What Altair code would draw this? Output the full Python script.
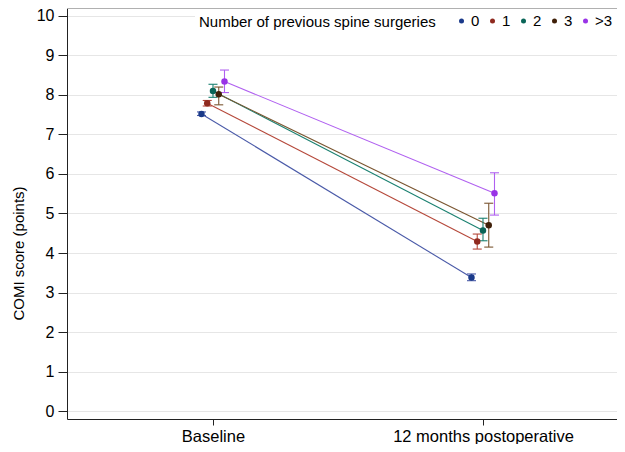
import altair as alt
import pandas as pd

groups = ["0", "1", "2", "3", ">3"]
point_colors = ["#1a3a8a", "#8f2a1f", "#0a6558", "#3f1f08", "#9933e6"]
line_colors = ["#4a5aa8", "#b5483a", "#1a8070", "#7a5530", "#b060f0"]
timepoints = ["Baseline", "12 months postoperative"]

baseline_mean = [7.52, 7.79, 8.10, 8.02, 8.34]
baseline_lo = [7.48, 7.72, 7.94, 7.75, 8.06]
baseline_hi = [7.57, 7.86, 8.27, 8.20, 8.63]
post_mean = [3.38, 4.29, 4.57, 4.70, 5.51]
post_lo = [3.30, 4.10, 4.31, 4.15, 4.96]
post_hi = [3.47, 4.48, 4.88, 5.26, 6.03]

rows = []
for i, g in enumerate(groups):
    rows.append(dict(group=g, grp=g, gi=i, t=1, time=timepoints[0],
                     mean=baseline_mean[i], lo=baseline_lo[i], hi=baseline_hi[i]))
    rows.append(dict(group=g, grp=g, gi=i, t=2, time=timepoints[1],
                     mean=post_mean[i], lo=post_lo[i], hi=post_hi[i]))
df = pd.DataFrame(rows)

W, H = 550, 411
FONT = "Liberation Sans"
STEP = 0.0213   # horizontal dodge between groups (x units)
CAP = 0.0167    # half cap width (x units)

xscale = alt.Scale(domain=[0.4593, 0.4593 + W / 270.0], nice=False, zero=False)
yscale = alt.Scale(domain=[-0.2, 10.2], nice=False, zero=False)
label_expr = "['" + "','".join(timepoints) + "'][datum.value - 1]"

xaxis = alt.Axis(values=[1, 2], labelExpr=label_expr, title=None, grid=False,
                 tickSize=6, labelPadding=3, labelFontSize=16.5, labelFont=FONT,
                 labelColor="black", domainColor="#222222", tickColor="#222222",
                 labelFlush=False, labelLimit=0)
yaxis = alt.Axis(values=list(range(11)), title="COMI score (points)", grid=True,
                 gridColor="#e6e6e6", tickSize=9, labelPadding=4, labelFontSize=16,
                 labelFont=FONT, labelColor="black", domainColor="#222222",
                 tickColor="#222222", titleFont=FONT, titleFontSize=15,
                 titleFontWeight="normal", titleColor="black", titleX=-49,
                 titleY=245, titleBaseline="middle", labelFlush=False)

base = alt.Chart(df).transform_calculate(
    xp="datum.t + (datum.gi - 2) * %f" % STEP,
    xl="datum.t + (datum.gi - 2) * %f - %f" % (STEP, CAP),
    xr="datum.t + (datum.gi - 2) * %f + %f" % (STEP, CAP),
)

stroke = alt.Stroke("grp:N", scale=alt.Scale(range=line_colors), legend=None)

lines = base.mark_line(strokeWidth=1.1).encode(
    x=alt.X("xp:Q", scale=xscale, axis=xaxis),
    y=alt.Y("mean:Q", scale=yscale, axis=yaxis),
    stroke=stroke,
    detail="grp:N",
)

bars = base.mark_rule(strokeWidth=1.1).encode(
    x=alt.X("xp:Q", scale=xscale),
    y=alt.Y("lo:Q", scale=yscale),
    y2="hi:Q",
    stroke=stroke,
)
caps_lo = base.mark_rule(strokeWidth=1.1).encode(
    x=alt.X("xl:Q", scale=xscale), x2="xr:Q",
    y=alt.Y("lo:Q", scale=yscale), stroke=stroke,
)
caps_hi = base.mark_rule(strokeWidth=1.1).encode(
    x=alt.X("xl:Q", scale=xscale), x2="xr:Q",
    y=alt.Y("hi:Q", scale=yscale), stroke=stroke,
)

points = base.mark_circle(size=42, opacity=1).encode(
    x=alt.X("xp:Q", scale=xscale),
    y=alt.Y("mean:Q", scale=yscale),
    color=alt.Color("group:N", scale=alt.Scale(domain=groups, range=point_colors),
                    legend=alt.Legend(
                        title="Number of previous spine surgeries",
                        orient="none", legendX=128, legendY=1.5,
                        direction="horizontal", titleOrient="left",
                        titleAnchor="middle", titleBaseline="middle",
                        symbolType="circle", symbolSize=25, symbolStrokeWidth=0,
                        fillColor="white", padding=4, titleLimit=400,
                        gridAlign="none",
                        labelFontSize=15, labelFont=FONT, labelColor="black",
                        titleFontSize=15, titleFont=FONT, titleFontWeight="normal",
                        titleColor="black", titlePadding=18, columnPadding=5,
                        labelOffset=2)),
)

top_line = alt.Chart(pd.DataFrame({"a": [0]})).mark_rule(
    color="#b0b0b0", strokeWidth=1).encode(
    x=alt.value(0), x2=alt.value(W), y=alt.value(0.5))

chart = alt.layer(lines, bars, caps_lo, caps_hi, points, top_line).properties(
    width=W, height=H,
    autosize=alt.AutoSizeParams(type="none"),
    padding={"left": 59, "top": 0, "right": 0, "bottom": 25},
    background="white",
).configure_view(strokeWidth=0)

chart.save("out.html", embed_options={"renderer": "svg", "actions": False})
